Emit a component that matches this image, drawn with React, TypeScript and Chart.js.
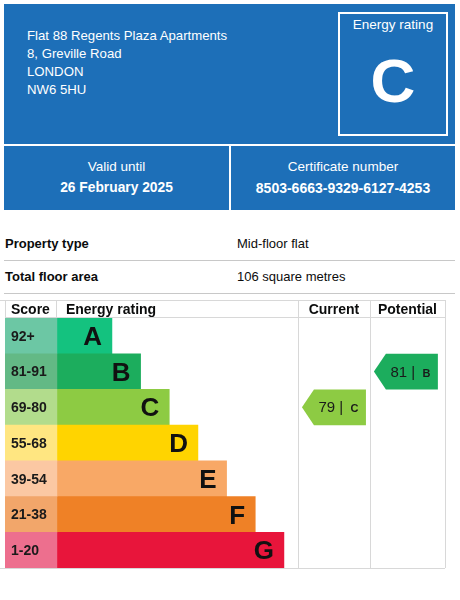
import React, { useEffect, useRef } from "react";
import { Chart, registerables } from "chart.js";

Chart.register(...registerables);

// ---- data ----
const addressLines = ["Flat 88 Regents Plaza Apartments", "8, Greville Road", "LONDON", "NW6 5HU"];
const overallRating = "C";
const validUntil = "26 February 2025";
const certificateNumber = "8503-6663-9329-6127-4253";
const propertyLabels = ["Property type", "Total floor area"];
const propertyValues = ["Mid-floor flat", "106 square metres"];

const bands = ["A", "B", "C", "D", "E", "F", "G"];
const scoreRanges = ["92+", "81-91", "69-80", "55-68", "39-54", "21-38", "1-20"];
const bandMins = [92, 81, 69, 55, 39, 21, 1];
const bandLengths = [2, 3, 4, 5, 6, 7, 8];
const bandColors = ["#14c27f", "#1cad5d", "#8dcb43", "#ffd400", "#f8a866", "#ef8126", "#e8153b"];
const scoreColors = ["#6cc7a4", "#63b985", "#b2dc8c", "#ffe681", "#fbc8a3", "#f2a66a", "#ed6f8e"];
const currentScore = 79;
const potentialScore = 81;

// ---- layout constants (scale units) ----
const X_MIN = -1.73;
const X_MAX = 13.62;
const SCORE_END = 0.08;
const CUR_COL = [8.49, 11.0];
const POT_COL = [11.0, 13.62];
const ARROW_W = 64;

const FONT = "'Liberation Sans', Arial, sans-serif";
const BLUE = "#1d6fb8";

function bandIndex(score: number): number {
  for (let i = 0; i < bandMins.length; i++) if (score >= bandMins[i]) return i;
  return bandMins.length - 1;
}

const tablePlugin = {
  id: "epcTable",
  afterDatasetsDraw(chart: any) {
    const { ctx, chartArea, scales } = chart;
    const x = scales.x;
    const y = scales.y;
    const top = chartArea.top;
    const bottom = chartArea.bottom;
    const headTop = top - 18;
    const xs = [x.getPixelForValue(X_MIN), x.getPixelForValue(SCORE_END), x.getPixelForValue(CUR_COL[0]), x.getPixelForValue(POT_COL[0]), x.getPixelForValue(POT_COL[1])];
    ctx.save();
    // grid lines
    ctx.strokeStyle = "#d8d8d8";
    ctx.lineWidth = 1;
    ctx.beginPath();
    ctx.moveTo(0, Math.round(headTop) + 0.5);
    ctx.lineTo(xs[4], Math.round(headTop) + 0.5);
    ctx.moveTo(xs[0], Math.round(top) - 0.5);
    ctx.lineTo(xs[4], Math.round(top) - 0.5);
    ctx.moveTo(0, Math.round(bottom) + 0.5);
    ctx.lineTo(xs[4], Math.round(bottom) + 0.5);
    ctx.moveTo(Math.round(xs[0]) + 0.5, headTop);
    ctx.lineTo(Math.round(xs[0]) + 0.5, top);
    ctx.moveTo(Math.round(xs[1]) - 0.5, headTop);
    ctx.lineTo(Math.round(xs[1]) - 0.5, top);
    for (const k of [2, 3, 4]) {
      ctx.moveTo(Math.round(xs[k]) + 0.5, headTop);
      ctx.lineTo(Math.round(xs[k]) + 0.5, bottom);
    }
    ctx.stroke();

    // headers
    ctx.fillStyle = "#0b0c0c";
    ctx.font = `bold 14px ${FONT}`;
    ctx.textBaseline = "middle";
    const hy = headTop + 10;
    ctx.textAlign = "left";
    ctx.fillText("Score", xs[0] + 6, hy);
    ctx.fillText("Energy rating", xs[1] + 9, hy);
    ctx.textAlign = "center";
    ctx.fillText("Current", (xs[2] + xs[3]) / 2, hy);
    ctx.fillText("Potential", (xs[3] + xs[4]) / 2, hy);

    // score labels and letters
    bands.forEach((b, i) => {
      const cy = y.getPixelForValue(i);
      ctx.fillStyle = "#1a1a1a";
      ctx.textAlign = "left";
      ctx.font = `bold 14px ${FONT}`;
      ctx.fillText(scoreRanges[i], xs[0] + 6, cy + 1);
      ctx.font = `bold 26px ${FONT}`;
      ctx.textAlign = "right";
      ctx.fillStyle = "#111";
      ctx.fillText(b, x.getPixelForValue(bandLengths[i]) - 10, cy + 2);
    });

    // arrows
    const drawArrow = (score: number, col: number[]) => {
      const idx = bandIndex(score);
      const cy = y.getPixelForValue(idx);
      const half = (y.getPixelForValue(1) - y.getPixelForValue(0)) / 2;
      const x0 = x.getPixelForValue(col[0]) + 4;
      const x1 = x0 + ARROW_W;
      const tip = 12;
      ctx.fillStyle = bandColors[idx];
      ctx.beginPath();
      ctx.moveTo(x0, cy);
      ctx.lineTo(x0 + tip, cy - half);
      ctx.lineTo(x1, cy - half);
      ctx.lineTo(x1, cy + half);
      ctx.lineTo(x0 + tip, cy + half);
      ctx.closePath();
      ctx.fill();
      const numTxt = `${score} | `;
      ctx.font = `15px ${FONT}`;
      const w1 = ctx.measureText(numTxt).width;
      ctx.font = `bold 11px ${FONT}`;
      const w2 = ctx.measureText(bands[idx]).width;
      const start = (x0 + tip + x1) / 2 - (w1 + w2) / 2 - 3;
      ctx.fillStyle = "#1a1a1a";
      ctx.textAlign = "left";
      ctx.font = `15px ${FONT}`;
      ctx.fillText(numTxt, start, cy + 1);
      ctx.font = `bold 11px ${FONT}`;
      ctx.fillText(bands[idx], start + w1 + 3, cy + 2);
    };
    drawArrow(currentScore, CUR_COL);
    drawArrow(potentialScore, POT_COL);
    ctx.restore();
  },
};

function RatingChart() {
  const ref = useRef<HTMLCanvasElement>(null);
  useEffect(() => {
    if (!ref.current) return;
    const chart = new Chart(ref.current, {
      type: "bar",
      data: {
        labels: bands,
        datasets: [
          {
            data: bands.map(() => [X_MIN, SCORE_END]) as any,
            backgroundColor: scoreColors,
            barPercentage: 1,
            categoryPercentage: 1,
            grouped: false,
          },
          {
            data: bandLengths.map((n) => [SCORE_END, n]) as any,
            backgroundColor: bandColors,
            barPercentage: 1,
            categoryPercentage: 1,
            grouped: false,
          },
        ],
      },
      options: {
        indexAxis: "y",
        animation: false,
        responsive: false,
        maintainAspectRatio: false,
        layout: { padding: { left: 5, right: 15, top: 22, bottom: 8 } },
        plugins: { legend: { display: false }, tooltip: { enabled: false } },
        scales: {
          x: { type: "linear", min: X_MIN, max: X_MAX, display: false },
          y: { type: "category", display: false, offset: true },
        },
      },
      plugins: [tablePlugin],
    });
    return () => chart.destroy();
  }, []);
  return <canvas ref={ref} width={460} height={280} style={{ position: "absolute", left: 0, top: 296, width: 460, height: 280 }} />;
}

export default function App() {
  const text: React.CSSProperties = { fontFamily: FONT, color: "#fff", position: "absolute", whiteSpace: "nowrap" };
  return (
    <div style={{ position: "absolute", left: 0, top: 0, width: 460, height: 600, background: "#fff", overflow: "hidden" }}>
      <div style={{ position: "absolute", left: 4, top: 4, width: 451, height: 140, background: BLUE }} />
      {addressLines.map((l, i) => (
        <div key={i} style={{ ...text, left: 27, top: 27 + i * 18, fontSize: 13.2, lineHeight: "18px" }}>{l}</div>
      ))}
      <div style={{ position: "absolute", left: 338, top: 12, width: 106, height: 120, border: "2px solid #fff" }} />
      <div style={{ ...text, left: 338, width: 110, top: 16, textAlign: "center", fontSize: 13.5, lineHeight: "18px" }}>Energy rating</div>
      <div style={{ ...text, left: 338, width: 110, top: 46, textAlign: "center", fontSize: 62, fontWeight: "bold", lineHeight: "70px" }}>{overallRating}</div>

      <div style={{ position: "absolute", left: 4, top: 146, width: 225, height: 64, background: BLUE }} />
      <div style={{ position: "absolute", left: 231, top: 146, width: 224, height: 64, background: BLUE }} />
      <div style={{ ...text, left: 4, width: 225, top: 158, textAlign: "center", fontSize: 13.5, lineHeight: "18px" }}>Valid until</div>
      <div style={{ ...text, left: 4, width: 225, top: 179, textAlign: "center", fontSize: 13.8, fontWeight: "bold", lineHeight: "18px" }}>{validUntil}</div>
      <div style={{ ...text, left: 231, width: 224, top: 158, textAlign: "center", fontSize: 13.5, lineHeight: "18px" }}>Certificate number</div>
      <div style={{ ...text, left: 231, width: 224, top: 179, textAlign: "center", fontSize: 14, fontWeight: "bold", lineHeight: "18px" }}>{certificateNumber}</div>

      {propertyLabels.map((l, i) => (
        <React.Fragment key={l}>
          <div style={{ ...text, color: "#0b0c0c", left: 5, top: 235 + i * 33, fontSize: 13, fontWeight: "bold", lineHeight: "18px" }}>{l}</div>
          <div style={{ ...text, color: "#0b0c0c", left: 237, top: 235 + i * 33, fontSize: 13, lineHeight: "18px" }}>{propertyValues[i]}</div>
          <div style={{ position: "absolute", left: 4, top: 260 + i * 33, width: 451, height: 1, background: "#c8c8c8" }} />
        </React.Fragment>
      ))}
      <RatingChart />
    </div>
  );
}
